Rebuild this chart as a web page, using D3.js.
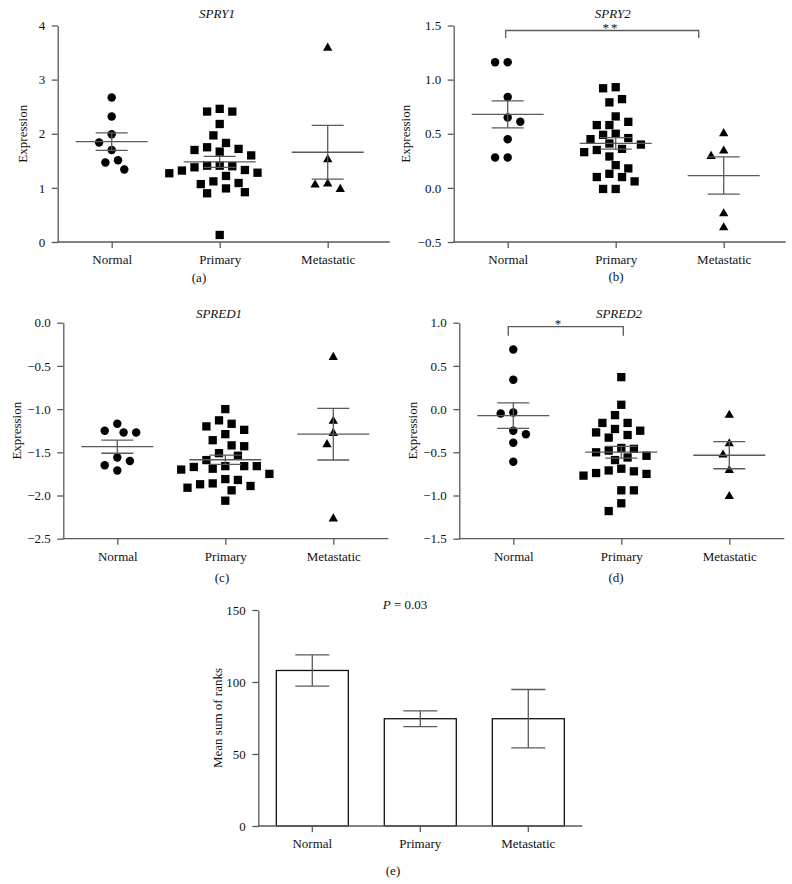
<!DOCTYPE html>
<html>
<head>
<meta charset="utf-8">
<script src="https://cdn.jsdelivr.net/npm/d3@7"></script>
<style>
  body { margin: 0; background: #fff; }
  text { font-family: "Liberation Serif", "DejaVu Serif", serif; font-size: 13px; fill: #111; }
</style>
</head>
<body>
<div id="chart"></div>
<script>
const groups = ["Normal", "Primary", "Metastatic"];

// (a) SPRY1
const spry1Normal = [2.67, 2.32, 1.99, 1.84, 1.70, 1.51, 1.47, 1.34];
const spry1Primary = [2.41, 2.41, 2.46, 2.18, 1.97, 1.83, 1.70, 1.67, 1.60, 1.72, 1.75,
  1.41, 1.40, 1.33, 1.28, 1.22, 1.27, 1.32, 1.38, 1.41,
  1.12, 1.07, 0.92, 0.90, 0.99, 1.09, 0.13];
const spry1Metastatic = [3.60, 1.54, 1.09, 0.99, 1.07];
const spry1Ticks = [0, 1, 2, 3, 4];

// (b) SPRY2
const spry2Normal = [1.16, 1.16, 0.84, 0.65, 0.61, 0.45, 0.28, 0.28];
const spry2Primary = [0.92, 0.93, 0.82, 0.79, 0.66, 0.61, 0.58, 0.58, 0.50, 0.49, 0.45, 0.46, 0.41,
  0.40, 0.35, 0.33, 0.36, 0.29, 0.21, 0.18, 0.10, 0.13, 0.10, 0.06, -0.01, -0.01];
const spry2Metastatic = [0.51, 0.30, 0.35, -0.23, -0.36];
const spry2Ticks = [-0.5, 0, 0.5, 1, 1.5];
const spry2Sig = ["Normal", "Metastatic", "**"];

// (c) SPRED1
const spred1Normal = [-1.17, -1.27, -1.27, -1.25, -1.60, -1.71, -1.65, -1.56];
const spred1Primary = [-1.00, -1.13, -1.17, -1.20, -1.24, -1.29, -1.36, -1.42, -1.43, -1.51, -1.54,
  -1.59, -1.66, -1.67, -1.70, -1.69, -1.66, -1.66, -1.75, -1.82, -1.91, -1.87, -1.89, -1.94,
  -1.86, -1.81, -2.06];
const spred1Metastatic = [-0.39, -1.13, -1.27, -1.40, -2.26];
const spred1Ticks = [-2.5, -2, -1.5, -1, -0.5, 0];

// (d) SPRED2
const spred2Normal = [0.69, 0.34, -0.05, -0.04, -0.29, -0.25, -0.39, -0.61];
const spred2Primary = [0.37, 0.05, -0.07, -0.16, -0.16, -0.23, -0.27, -0.33, -0.30, -0.25, -0.46,
  -0.50, -0.56, -0.59, -0.54, -0.48, -0.45, -0.71, -0.74, -0.77, -0.75, -0.72, -0.69, -0.94,
  -0.94, -1.09, -1.18];
const spred2Metastatic = [-0.06, -0.39, -0.52, -0.70, -1.00];
const spred2Ticks = [-1.5, -1, -0.5, 0, 0.5, 1];
const spred2Sig = ["Normal", "Primary", "*"];

// (e) mean sum of ranks
const rankMean = [108, 74.5, 74.5];
const rankError = [10.8, 5.5, 20.3];
const rankTicks = [0, 50, 100, 150];

const W = 792, H = 884;
const axisColor = "#5a5a5a";
const errColor = "#5a5a5a";

const svg = d3.select("#chart").append("svg")
  .attr("width", W)
  .attr("height", H);

// swarm like the Prism scatter: shift points sideways by half columns when they crowd
function swarm(values, y) {
  const step = 6.3;
  const order = d3.range(values.length).sort((a, b) => values[b] - values[a]);
  const placed = [];
  const dx = new Array(values.length).fill(0);
  let flip = false;
  order.forEach(i => {
    const py = y(values[i]);
    const free = off => placed.every(p => {
      const ax = Math.abs(p.x - off), ay = Math.abs(p.y - py);
      if (ax < 11.5 && ay < 8.2) return false;
      if (ax < 6 && ay < 12) return false;
      return true;
    });
    let off = 0;
    for (let k = 0; k < 16; k++) {
      const a = k * step;
      const tries = k === 0 ? [0] : (flip ? [a, -a] : [-a, a]);
      const hit = tries.find(free);
      if (hit !== undefined) { off = hit; if (k > 0) flip = !flip; break; }
    }
    placed.push({ x: off, y: py });
    dx[i] = off;
  });
  return dx;
}

function yAxis(g, y, ticks, fmt, axisX) {
  g.append("g")
    .attr("transform", `translate(${axisX},0)`)
    .call(d3.axisLeft(y).tickValues(ticks).tickFormat(d3.format(fmt)).tickSize(6).tickPadding(6.5).tickSizeOuter(0))
    .call(a => a.selectAll("path,line").attr("stroke", axisColor).attr("stroke-width", 1.3))
    .call(a => a.selectAll("text").attr("font-family", null).attr("font-size", null).attr("fill", null));
}

function xAxis(g, x, axisX, axisLen, bottom) {
  g.append("g")
    .attr("transform", `translate(0,${bottom})`)
    .call(d3.axisBottom(x).tickSize(6).tickPadding(7).tickSizeOuter(0))
    .call(a => a.select(".domain").remove())
    .call(a => a.selectAll("line").attr("stroke", axisColor).attr("stroke-width", 1.3))
    .call(a => a.selectAll("text").attr("font-family", null).attr("font-size", null).attr("fill", null));
  g.append("line")
    .attr("x1", axisX - 0.6).attr("x2", axisX + axisLen)
    .attr("y1", bottom).attr("y2", bottom)
    .attr("stroke", axisColor).attr("stroke-width", 1.3);
}

function labels(g, p) {
  g.append("text")
    .attr("x", p.titleX).attr("y", p.titleY)
    .attr("text-anchor", "middle")
    .style("font-style", "italic")
    .text(p.title);
  g.append("text")
    .attr("x", p.letterX).attr("y", p.letterY)
    .attr("text-anchor", "middle")
    .text(p.letter);
  g.append("text")
    .attr("transform", `translate(${p.labelX},${(p.top + p.bottom) / 2}) rotate(-90)`)
    .attr("text-anchor", "middle")
    .text(p.ylabel);
}

const shapes = [d3.symbolCircle, d3.symbolSquare, d3.symbolTriangle];
const sizes = [56, 69, 38];

function drawScatter(p) {
  const g = svg.append("g");
  const x = d3.scalePoint().domain(groups).range([p.axisX, p.axisX + 324]).padding(0.5);
  const y = d3.scaleLinear().domain(d3.extent(p.ticks)).range([p.bottom, p.top]);

  yAxis(g, y, p.ticks, p.fmt, p.axisX);
  xAxis(g, x, p.axisX, p.axisLen, p.bottom);
  labels(g, p);

  p.values.forEach((vals, gi) => {
    const cx = x(groups[gi]);
    const dx = swarm(vals, y);
    g.append("g").selectAll("path")
      .data(vals)
      .enter()
      .append("path")
      .attr("d", d3.symbol(shapes[gi], sizes[gi]))
      .attr("transform", (d, i) => `translate(${cx + dx[i]},${y(d) + (gi === 2 ? 0.8 : 0)})`)
      .attr("fill", "#000");

    // mean with SEM
    const m = d3.mean(vals);
    const sem = d3.deviation(vals) / Math.sqrt(vals.length);
    const e = g.append("g").attr("stroke", errColor).attr("stroke-width", 1.3);
    e.append("line").attr("x1", cx - 36).attr("x2", cx + 36).attr("y1", y(m)).attr("y2", y(m));
    e.append("line").attr("x1", cx).attr("x2", cx).attr("y1", y(m - sem)).attr("y2", y(m + sem));
    [m - sem, m + sem].forEach(v => {
      e.append("line").attr("x1", cx - 16).attr("x2", cx + 16).attr("y1", y(v)).attr("y2", y(v));
    });
  });

  if (p.sig) {
    const x1 = x(p.sig[0]) + p.sigEnds[0];
    const x2 = x(p.sig[1]) + p.sigEnds[1];
    g.append("path")
      .attr("d", `M${x1},${p.sigY + p.sigLeg}V${p.sigY}H${x2}V${p.sigY + p.sigLeg}`)
      .attr("fill", "none")
      .attr("stroke", axisColor)
      .attr("stroke-width", 1.3);
    g.append("text")
      .attr("x", p.sigTextX).attr("y", p.sigY + 1)
      .attr("text-anchor", "middle")
      .style("letter-spacing", "2px")
      .text(p.sig[2]);
  }
}

const panels = [
  { values: [spry1Normal, spry1Primary, spry1Metastatic], ticks: spry1Ticks, fmt: "d",
    title: "SPRY1", letter: "(a)", ylabel: "Expression",
    axisX: 57.7, axisLen: 332, top: 25.5, bottom: 242,
    titleX: 217, titleY: 17.5, letterX: 199, letterY: 282, labelX: 27 },
  { values: [spry2Normal, spry2Primary, spry2Metastatic], ticks: spry2Ticks, fmt: ".1f",
    title: "SPRY2", letter: "(b)", ylabel: "Expression",
    axisX: 453.7, axisLen: 332, top: 25.5, bottom: 242,
    titleX: 612.7, titleY: 18, letterX: 616, letterY: 281, labelX: 409.5,
    sig: spry2Sig, sigEnds: [-2, -25], sigY: 30.5, sigLeg: 7.5, sigTextX: 611 },
  { values: [spred1Normal, spred1Primary, spred1Metastatic], ticks: spred1Ticks, fmt: ".1f",
    title: "SPRED1", letter: "(c)", ylabel: "Expression",
    axisX: 63.3, axisLen: 325, top: 322.7, bottom: 538.7,
    titleX: 219, titleY: 318, letterX: 222, letterY: 582, labelX: 21 },
  { values: [spred2Normal, spred2Primary, spred2Metastatic], ticks: spred2Ticks, fmt: ".1f",
    title: "SPRED2", letter: "(d)", ylabel: "Expression",
    axisX: 459.3, axisLen: 325, top: 322.7, bottom: 538.7,
    titleX: 619, titleY: 318, letterX: 616, letterY: 582, labelX: 417,
    sig: spred2Sig, sigEnds: [-5, 2], sigY: 326.7, sigLeg: 9, sigTextX: 559 }
];

panels.forEach(drawScatter);

// (e) bar chart
{
  const p = { title: "", letter: "(e)", ylabel: "Mean sum of ranks",
    axisX: 258.3, axisLen: 324, top: 610, bottom: 826,
    titleX: 405, titleY: 609, letterX: 393, letterY: 875, labelX: 222 };
  const g = svg.append("g");
  const x = d3.scaleBand().domain(groups).range([p.axisX, p.axisX + 324]).paddingInner(1 / 3).paddingOuter(1 / 6);
  const y = d3.scaleLinear().domain(d3.extent(rankTicks)).range([p.bottom, p.top]);

  g.selectAll("rect")
    .data(rankMean)
    .enter()
    .append("rect")
    .attr("x", (d, i) => x(groups[i]))
    .attr("y", d => y(d))
    .attr("width", x.bandwidth())
    .attr("height", d => p.bottom - y(d))
    .attr("fill", "#fff")
    .attr("stroke", "#111")
    .attr("stroke-width", 1.3);

  const e = g.append("g").attr("stroke", errColor).attr("stroke-width", 1.3);
  rankMean.forEach((m, i) => {
    const cx = x(groups[i]) + x.bandwidth() / 2;
    const lo = m - rankError[i], hi = m + rankError[i];
    e.append("line").attr("x1", cx).attr("x2", cx).attr("y1", y(lo)).attr("y2", y(hi));
    [lo, hi].forEach(v => {
      e.append("line").attr("x1", cx - 17).attr("x2", cx + 17).attr("y1", y(v)).attr("y2", y(v));
    });
  });

  yAxis(g, y, rankTicks, "d", p.axisX);
  xAxis(g, x, p.axisX, p.axisLen, p.bottom);
  labels(g, p);

  const t = g.append("text").attr("x", p.titleX).attr("y", p.titleY).attr("text-anchor", "middle");
  t.append("tspan").style("font-style", "italic").text("P");
  t.append("tspan").text(" = 0.03");
}
</script>
</body>
</html>
